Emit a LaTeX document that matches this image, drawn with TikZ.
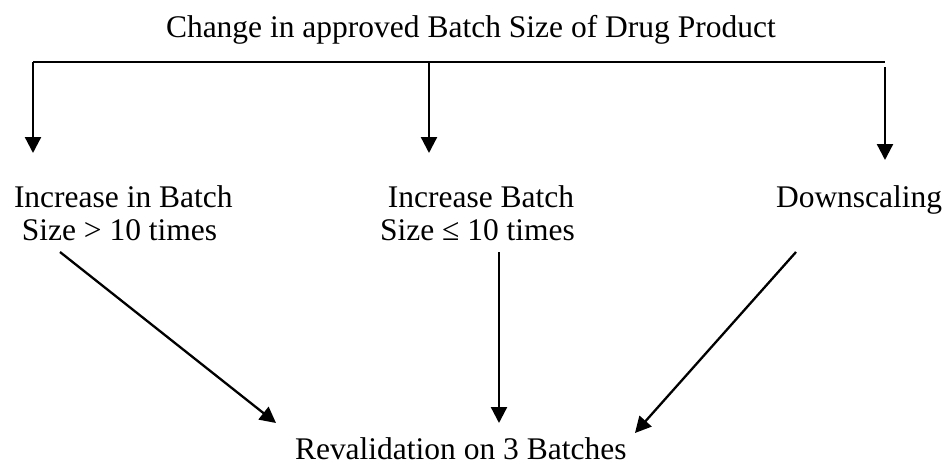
\documentclass[tikz,border=0pt]{standalone}
\usepackage{fontspec}
\setmainfont{Liberation Serif}
\usetikzlibrary{arrows.meta}
\tikzset{
  lbl/.style={inner sep=0pt, outer sep=0pt, font=\fontsize{31.5}{33}\selectfont},
  conn/.style={line width=2.3pt},
  arr/.style={conn, -{Triangle[width=16pt,length=16pt]}}
}
\begin{document}
\begin{tikzpicture}[x=1pt,y=-1pt]
\useasboundingbox (0,0) rectangle (948,464);

% labels
\node[lbl, anchor=base west] (top) at (166,37) {Change in approved Batch Size of Drug Product};
\node[lbl, anchor=north west, align=left] (inc) at (14,186)
  {Increase in Batch\\\hspace*{0.25em}Size > 10 times};
\node[lbl, anchor=north west, align=left] (incle) at (380,186)
  {\hspace*{0.25em}Increase Batch\\Size ≤ 10 times};
\node[lbl, anchor=base west] (down) at (776,207) {Downscaling};
\node[lbl, anchor=base west] (reval) at (295,459) {Revalidation on 3 Batches};

% branch bar and its drops
\coordinate (barL) at (33,62);
\coordinate (barM) at (429,62);
\coordinate (barR) at (885,62);
\coordinate (tipL) at (33,153);
\coordinate (tipM) at (429,153);
\coordinate (startR) at (885,67);
\coordinate (tipR) at (885,160);
\draw[conn] (barL) -- (barR);
\draw[arr] (barL) -- (tipL);
\draw[arr] (barM) -- (tipM);
\draw[arr] (startR) -- (tipR);

% converging arrows
\coordinate (fromA) at (60,252);
\coordinate (toA) at (276,423);
\coordinate (fromB) at (499,252);
\coordinate (toB) at (499,423);
\coordinate (fromC) at (796,252);
\coordinate (toC) at (635,433);
\draw[arr] (fromA) -- (toA);
\draw[arr] (fromB) -- (toB);
\draw[arr] (fromC) -- (toC);
\end{tikzpicture}
\end{document}
